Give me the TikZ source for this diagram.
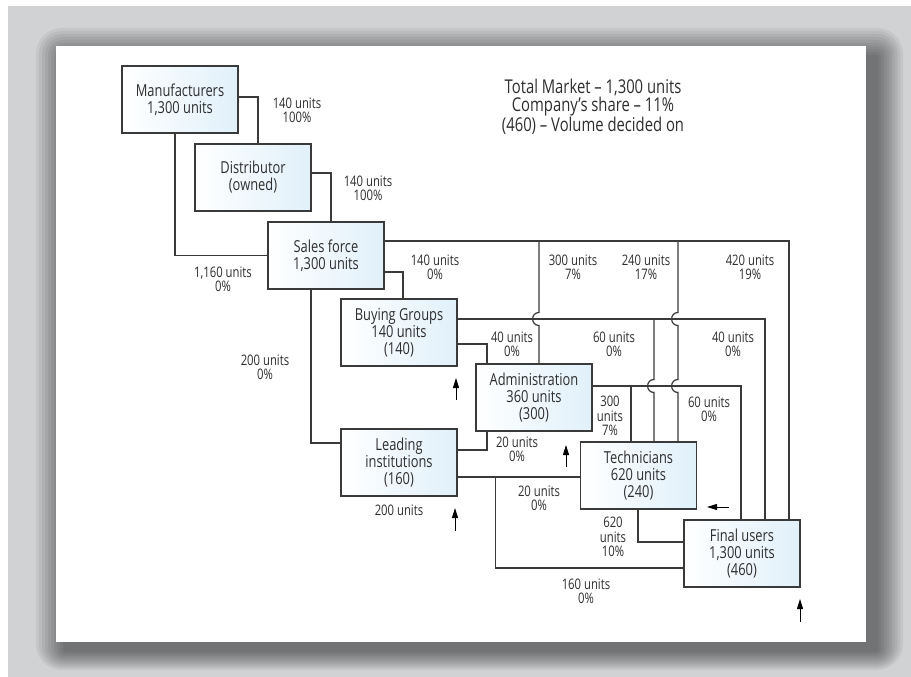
\documentclass[tikz,border=0pt]{standalone}
\usepackage{fontspec}
\setmainfont{Open Sans}[FakeStretch=0.78]
\usepackage{tikz}
\usetikzlibrary{arrows.meta, calc}
\definecolor{boxblue}{HTML}{E0F0FA}
\definecolor{linegray}{HTML}{3A3A3A}
\definecolor{bggray}{HTML}{D1D2D4}
\definecolor{txtgray}{HTML}{2E2E2E}

\begin{document}
\begin{tikzpicture}[
  x=1pt, y=-1pt,
  >={Triangle[length=10pt, width=6pt]},
  box/.style={draw=linegray, line width=1.1pt, left color=white, right color=boxblue,
              minimum width=116pt, minimum height=67pt, align=center, inner sep=1pt,
              text=txtgray, font=\fontsize{16.5}{17}\selectfont},
  link/.style={draw=linegray, line width=1.2pt},
  lbl/.style={align=center, text=txtgray, inner sep=0pt,
              font=\fontsize{14.5}{14.3}\selectfont},
  uparrow/.style={->, draw=black, line width=1pt},
]
  % --- page and shadow ---------------------------------------------
  \useasboundingbox (0,0) rectangle (911,677);
  \fill[white] (0,0) rectangle (911,677);
  \fill[bggray] (8,6) rectangle (911,677);
  \foreach \i in {1,...,10}
    \fill[black, opacity=0.055, rounded corners=2.6*\i]
      (66-3*\i, 58-3*\i) rectangle (876+2.7*\i, 650+2*\i);
  \fill[white] (56,46) rectangle (866,642);

  % --- boxes -------------------------------------------------------
  \node[box] (manu) at (180,99.5) {Manufacturers\\1,300 units};
  \node[box] (dist) at (253,177.5) {Distributor\\(owned)};
  \node[box] (sales) at (326,255.5) {Sales force\\1,300 units};
  \node[box] (buy) at (399,332.5) {Buying Groups\\140 units\\(140)};
  \node[box] (admin) at (534,397.5) {Administration\\360 units\\(300)};
  \node[box] (lead) at (399,462.5) {Leading\\institutions\\(160)};
  \node[box] (tech) at (638.5,475.5) {Technicians\\620 units\\(240)};
  \node[box] (users) at (742,553.5) {Final users\\1,300 units\\(460)};

  \node[align=center, text=txtgray, font=\fontsize{19}{18.5}\selectfont] (title)
    at (593,107) {Total Market -- 1,300 units\\Company's share -- 11\%\\(460) -- Volume decided on};

  % --- exits and entries -------------------------------------------
  \coordinate (s1) at ([yshift=14.5pt]sales.east);
  \coordinate (s2) at ([yshift=-16.5pt]sales.east);
  \coordinate (b1) at ([yshift=13.5pt]buy.east);
  \coordinate (b2) at ([yshift=-11.5pt]buy.east);
  \coordinate (a1) at ([yshift=11.5pt]admin.east);
  \coordinate (l1) at ([yshift=12.5pt]lead.east);
  \coordinate (l2) at ([yshift=-14.5pt]lead.east);
  \coordinate (ad1) at ([xshift=5pt]admin.north);
  \coordinate (ad2) at ([xshift=-47pt]admin.north);
  \coordinate (ad3) at ([xshift=-47pt]admin.south);
  \coordinate (t1) at ([xshift=-7.5pt]tech.north);
  \coordinate (t2) at ([xshift=15.5pt]tech.north);
  \coordinate (t3) at ([xshift=39.5pt]tech.north);
  \coordinate (u1) at ([xshift=-1pt]users.north);
  \coordinate (u2) at ([xshift=23pt]users.north);
  \coordinate (u3) at ([xshift=47pt]users.north);
  \coordinate (u4) at ([yshift=11.5pt]users.west);
  \coordinate (u5) at ([yshift=-14.5pt]users.west);

  % --- flows -------------------------------------------------------
  \draw[link] ([yshift=2.5pt]manu.east) -| ([xshift=5pt]dist.north);
  \draw[link] ([xshift=-5pt]manu.south) |- (sales.west);
  \draw[link] ([yshift=4.5pt]dist.east) -| ([xshift=5pt]sales.north);
  \draw[link] (s1) -| (u3);
  \draw[link] (s2) -| ([xshift=4pt]buy.north);
  \draw[link] ([xshift=-15pt]sales.south) |- ([yshift=19.5pt]lead.west);
  \draw[link] (b1) -| (u2);
  \draw[link] (b2) -| (ad2);
  \draw[link] (a1) -| (u1);
  \draw[link] (ad3) |- (l1);
  \draw[link] (l2) -- (l2 -| tech.west);
  \draw[link] ($(l2)+(38,0)$) |- (u5);
  \draw[link] ([xshift=-0.5pt]tech.south) |- (u4);

  % vertical branches, hopping over the crossings
  \draw[link] (s1 -| ad1) -- ($(b1 -| ad1)+(0,-6.5)$)
    .. controls +(-8.5,0) and +(-8.5,0) .. ($(b1 -| ad1)+(0,6.5)$) -- (ad1);
  \draw[link] (s1 -| t3) -- ($(b1 -| t3)+(0,-6.5)$)
    .. controls +(-8.5,0) and +(-8.5,0) .. ($(b1 -| t3)+(0,6.5)$)
    -- ($(a1 -| t3)+(0,-6.5)$)
    .. controls +(-8.5,0) and +(-8.5,0) .. ($(a1 -| t3)+(0,6.5)$) -- (t3);
  \draw[link] (b1 -| t2) -- ($(a1 -| t2)+(0,-6.5)$)
    .. controls +(-8.5,0) and +(-8.5,0) .. ($(a1 -| t2)+(0,6.5)$) -- (t2);
  \draw[link] (a1 -| t1) -- (t1);

  % --- volumes -----------------------------------------------------
  \node[lbl] (v1) at (297,110) {140 units\\100\%};
  \node[lbl] (v2) at (368,188) {140 units\\100\%};
  \node[lbl] (v3) at (223,279) {1,160 units\\0\%};
  \node[lbl] (v4) at (435,267) {140 units\\0\%};
  \node[lbl] (v5) at (573,267) {300 units\\7\%};
  \node[lbl] (v6) at (646,267) {240 units\\17\%};
  \node[lbl] (v7) at (750,267) {420 units\\19\%};
  \node[lbl] (v8) at (265,367) {200 units\\0\%};
  \node[lbl] (v9) at (512,344) {40 units\\0\%};
  \node[lbl] (v10) at (614,344) {60 units\\0\%};
  \node[lbl] (v11) at (733,344) {40 units\\0\%};
  \node[lbl] (v12) at (610,416) {300\\units\\7\%};
  \node[lbl] (v13) at (709,409) {60 units\\0\%};
  \node[lbl] (v14) at (517,449) {20 units\\0\%};
  \node[lbl] (v15) at (539,498) {20 units\\0\%};
  \node[lbl] (v16) at (613,537) {620\\units\\10\%};
  \node[lbl] (v17) at (586,591) {160 units\\0\%};
  \node[lbl] (v18) at (399,510) {200 units};

  % --- markers -----------------------------------------------------
  \draw[uparrow] (456,400) -- (456,378);
  \draw[uparrow] (566,467) -- (566,445);
  \draw[uparrow] (455,531) -- (455,508);
  \draw[uparrow] (729,507) -- (707,507);
  \draw[uparrow] (800,622) -- (800,599);
\end{tikzpicture}
\end{document}
